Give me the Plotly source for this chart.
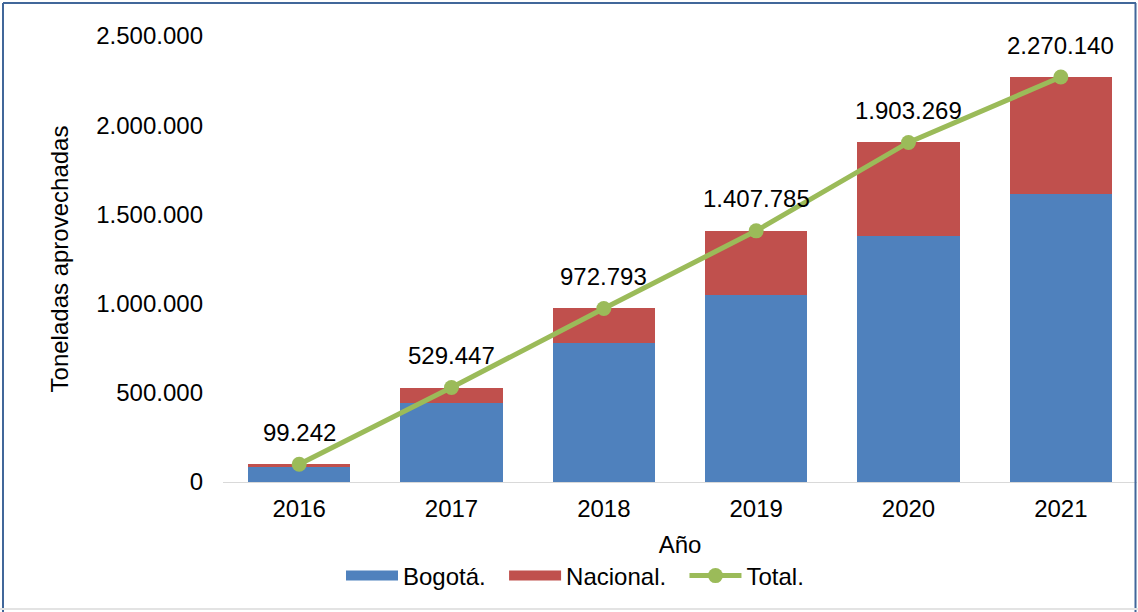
import plotly.graph_objects as go

years = ["2016", "2017", "2018", "2019", "2020", "2021"]
bogota = [82000, 445000, 780000, 1049000, 1378000, 1612600]
total = [99242, 529447, 972793, 1407785, 1903269, 2270140]
nacional = [t - b for t, b in zip(total, bogota)]
y_ticks = [0, 500000, 1000000, 1500000, 2000000, 2500000]

BLUE = "#4F81BD"
RED = "#C0504D"
GREEN = "#9BBB59"
FONT = "Liberation Sans, Arial, sans-serif"
FS = 24
NB = "\u00a0\u00a0"

def fmt(v):
    return f"{v:,}".replace(",", ".")

fig = go.Figure()
fig.add_trace(go.Bar(x=years, y=bogota, name="Bogotá.", showlegend=False,
                     marker=dict(color=BLUE, line=dict(width=0))))
fig.add_trace(go.Bar(x=years, y=nacional, name="Nacional.", showlegend=False,
                     marker=dict(color=RED, line=dict(width=0))))
fig.add_trace(go.Scatter(x=years, y=total, name="Total.", mode="lines+markers", showlegend=False,
                         line=dict(color=GREEN, width=5), marker=dict(color=GREEN, size=15)))

# legend entries (wide swatches like the original)
fig.add_trace(go.Scatter(x=[None], y=[None], name="Bogotá." + NB, mode="lines",
                         line=dict(color=BLUE, width=12)))
fig.add_trace(go.Scatter(x=[None], y=[None], name="Nacional." + NB, mode="lines",
                         line=dict(color=RED, width=12)))
fig.add_trace(go.Scatter(x=[None], y=[None], name="Total.", mode="lines+markers",
                         line=dict(color=GREEN, width=5), marker=dict(color=GREEN, size=15)))

for i, t in enumerate(total):
    fig.add_annotation(x=i, y=t, text=fmt(t), showarrow=False, yshift=32,
                       font=dict(family=FONT, size=FS, color="#000000"))

W, H = 1138, 612
L, R, T, B = 223, 1, 36, 130
pw, ph = W - L - R, H - T - B

def px(xpix):
    return (xpix - L) / pw

def py(ypix):
    return (H - B - ypix) / ph

border = "#41679A"
fig.add_shape(type="line", xref="paper", yref="paper", x0=px(3), x1=px(3), y0=py(3), y1=py(612),
              line=dict(color=border, width=2))
fig.add_shape(type="line", xref="paper", yref="paper", x0=px(3), x1=px(1136), y0=py(3), y1=py(3),
              line=dict(color=border, width=2))
fig.add_shape(type="line", xref="paper", yref="paper", x0=px(1135.5), x1=px(1135.5), y0=py(3), y1=py(612),
              line=dict(color=border, width=2))
fig.add_shape(type="line", xref="paper", yref="paper", x0=px(0), x1=px(1138), y0=py(609), y1=py(609),
              line=dict(color="#E3E3E3", width=2))

fig.update_layout(
    width=W, height=H,
    margin=dict(l=L, r=R, t=T, b=B, autoexpand=False),
    barmode="stack", bargap=0.33,
    paper_bgcolor="white", plot_bgcolor="white",
    font=dict(family=FONT, size=FS, color="#000000"),
    showlegend=True,
    legend=dict(orientation="h", x=px(575), xanchor="center", y=py(576), yanchor="middle",
                font=dict(size=FS), bgcolor="rgba(0,0,0,0)", traceorder="normal",
                itemwidth=52),
    xaxis=dict(type="category", range=[-0.5, 5.5], showline=True, linecolor="#D9D9D9", linewidth=1,
               showgrid=False, ticks="", ticklabelstandoff=5,
               title=dict(text="Año", standoff=15, font=dict(size=FS))),
    yaxis=dict(range=[0, 2500000], tickvals=y_ticks, ticktext=[fmt(v) for v in y_ticks],
               showgrid=False, zeroline=False, showline=False, ticks="", ticklabelstandoff=19,
               title=dict(text="Toneladas aprovechadas", standoff=20, font=dict(size=FS))),
)

fig.write_html("out.html", config={"displayModeBar": False},
               post_script="document.body.style.margin='0';")
